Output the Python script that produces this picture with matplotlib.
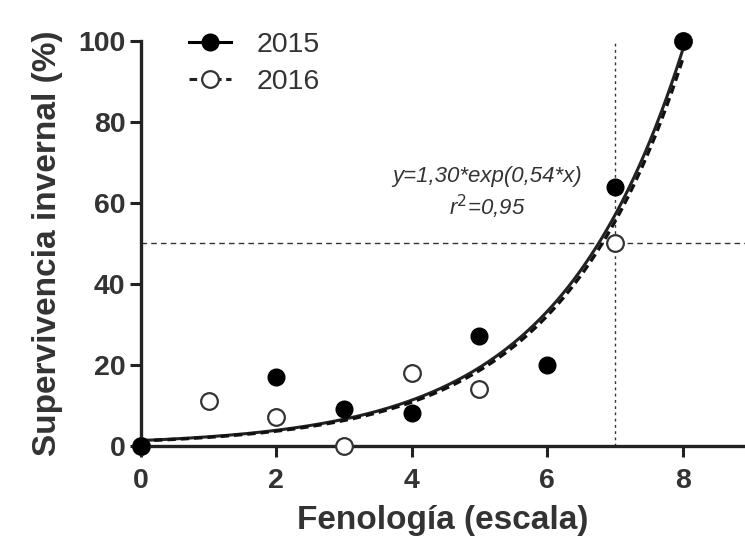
import numpy as np
import matplotlib
matplotlib.use("Agg")
import matplotlib.pyplot as plt

plt.rcParams['font.family'] = ['Liberation Sans', 'DejaVu Sans']

# Data
x2015 = [0, 2, 3, 4, 5, 6, 7, 8]
y2015 = [0, 17, 9, 8, 27, 20, 64, 100]
x2016 = [0, 1, 2, 3, 4, 5, 7, 8]
y2016 = [0, 11, 7, 0, 18, 14, 50, 100]

# fitted models
fit2015 = (1.30, 0.54)
fit2016 = (1.22, 0.545)

x_ref = 7
y_ref = 50

xticks = [0, 2, 4, 6, 8]
yticks = [0, 20, 40, 60, 80, 100]

fig = plt.figure(figsize=(7.45, 5.45), dpi=100)
ax = fig.add_axes([0.189, 0.182, 0.811, 0.743])

xs = np.linspace(0, 8, 200)
ax.plot(xs, fit2015[0] * np.exp(fit2015[1] * xs), color='#222222', lw=2.2, solid_capstyle='butt', zorder=3)
ax.plot(xs, fit2016[0] * np.exp(fit2016[1] * xs), color='#111111', lw=2.4, ls=(0, (2.5, 1.5)), zorder=3)

ax.axhline(y_ref, color='#333333', lw=1.0, ls=(0, (4, 3)), zorder=1)
ax.plot([x_ref, x_ref], [0, 100], color='#333333', lw=1.0, ls=(0, (2, 2.5)), zorder=1)

ax.plot(x2016, y2016, 'o', ms=12, mfc='white', mec='#333333', mew=1.6, zorder=4, clip_on=False)
ax.plot(x2015, y2015, 'o', ms=12, mfc='black', mec='black', zorder=5, clip_on=False)

# legend proxies
h1, = ax.plot([], [], '-o', color='black', lw=2.2, ms=12, mfc='black')
h2, = ax.plot([], [], ls=(0, (2.5, 1.5)), marker='o', color='#222222', lw=2.2, ms=12, mfc='white', mec='#333333', mew=1.6)
leg = ax.legend([h1, h2], ['2015', '2016'], loc='upper left', bbox_to_anchor=(0.038, 1.085), frameon=False,
                prop={'size': 20.5}, handlelength=1.47, handletextpad=0.9, labelspacing=0.39)
for t in leg.get_texts():
    t.set_color('#333333')

ax.text(5.11, 66.4, 'y=1,30*exp(0,54*x)', style='italic', fontsize=16, color='#333333', ha='center', va='center')
ax.text(5.11, 59.0, 'r$^2$=0,95', style='italic', fontsize=16, color='#333333', ha='center', va='center')

ax.set_xlim(0, 8.92)
ax.set_ylim(0, 100)
ax.set_xticks(xticks)
ax.set_yticks(yticks)
ax.tick_params(labelsize=20.5, width=2.2, length=8, direction='out', colors='#222222')
ax.tick_params(axis='x', pad=8)
ax.tick_params(axis='y', pad=3)
for lab in ax.get_xticklabels() + ax.get_yticklabels():
    lab.set_fontweight('bold')
    lab.set_color('#333333')
for s in ['top', 'right']:
    ax.spines[s].set_visible(False)
for s in ['left', 'bottom']:
    ax.spines[s].set_linewidth(2.4)
    ax.spines[s].set_color('#222222')

ax.set_xlabel('Fenología (escala)', fontsize=24, fontweight='bold', color='#333333')
ax.set_ylabel('Supervivencia invernal (%)', fontsize=24, fontweight='bold', color='#333333')
ax.xaxis.set_label_coords(0.5, -0.145)
ax.yaxis.set_label_coords(-0.129, 0.5)

fig.savefig('out.png', dpi=100)
